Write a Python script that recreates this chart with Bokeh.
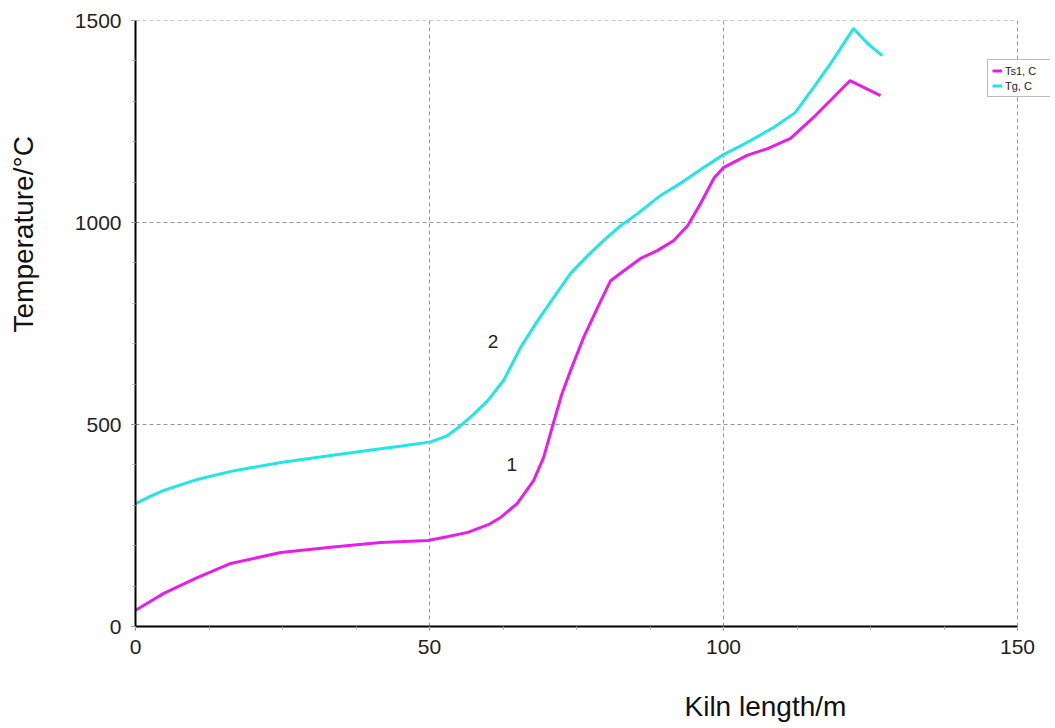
from bokeh.plotting import figure
from bokeh.models import (Range1d, FixedTicker, Label, Legend, LegendItem, Title)
from bokeh.embed import file_html
from bokeh.resources import INLINE

# ---- data ----
ts1_x = [0, 2.5, 4.8, 10.5, 16.2, 24.7, 33.2, 41.7, 49.7, 53, 56.5, 60, 62.1, 64.9,
         67.7, 69.4, 71.1, 72.5, 74, 76.2, 78.6, 80.8, 83, 85.9, 88.8, 91.5, 93.9,
         96.1, 98.4, 100, 104, 107.5, 111.4, 115.3, 121.5, 126.7]
ts1_y = [40, 62, 82, 121, 156, 183, 196, 208, 213, 222, 233, 252, 270, 304,
         361, 418, 505, 575, 634, 715, 790, 856, 880, 911, 931, 955, 992,
         1047, 1110, 1136, 1166, 1183, 1208, 1260, 1351, 1314]

tg_x = [0, 2.5, 4.8, 10.5, 16.2, 24.7, 33.2, 41.7, 45, 50.2, 53, 55.3, 57.5, 59.9,
        62.6, 65.5, 68.4, 71.1, 74, 76.9, 79.6, 82.5, 85.4, 89.3, 93, 96.5, 100,
        104, 108.5, 112.2, 115.3, 118.2, 122.1, 124.5, 127]
tg_y = [304, 322, 337, 364, 384, 406, 423, 440, 446, 457, 472, 497, 525, 559,
        609, 691, 757, 814, 874, 918, 955, 992, 1022, 1067, 1100, 1135, 1168,
        1198, 1235, 1272, 1334, 1393, 1480, 1443, 1413]

x_ticks = [0, 50, 100, 150]
y_ticks = [0, 500, 1000, 1500]
series_names = ["Ts1, C", "Tg, C"]
curve_labels = ["1", "2"]
curve_label_pos = [(64, 400), (60.8, 705)]
x_title = "Kiln length/m"
y_title = "Temperature/°C"

FONT = "Liberation Sans"

X_MAX = x_ticks[-1]
Y_MAX = y_ticks[-1]
# frame extends a little past x=150 so that the legend can overhang the axis end
x_end = X_MAX * (1050 - 135) / (1017 - 135)

p = figure(width=1052, height=728, output_backend="svg", toolbar_location=None,
           x_range=Range1d(0, x_end), y_range=Range1d(0, Y_MAX),
           min_border_left=135, min_border_top=20, min_border_right=2,
           min_border_bottom=102)
p.outline_line_color = None
p.background_fill_color = "white"
p.border_fill_color = "white"
p.xgrid.visible = False
p.ygrid.visible = False

# dashed grid restricted to the axis extent
p.segment(x0=x_ticks, y0=[0] * len(x_ticks), x1=x_ticks, y1=[Y_MAX] * len(x_ticks),
          line_color="#999999", line_dash="4 3", line_width=1)
p.segment(x0=[0] * len(y_ticks), y0=y_ticks, x1=[X_MAX] * len(y_ticks), y1=y_ticks,
          line_color="#999999", line_dash="4 3", line_width=1)

p.xaxis.bounds = (0, X_MAX)
p.xaxis.ticker = FixedTicker(ticks=x_ticks, minor_ticks=[12.5 * i for i in range(13)])
p.yaxis.ticker = FixedTicker(ticks=y_ticks, minor_ticks=[100 * i for i in range(16)])
for ax in (p.xaxis, p.yaxis):
    ax.axis_line_color = "black"
    ax.axis_line_width = 2
    ax.major_tick_line_color = "#555555"
    ax.major_tick_out = 4
    ax.major_tick_in = 0
    ax.minor_tick_line_color = "#aaaaaa"
    ax.minor_tick_out = 3
    ax.minor_tick_in = 0
    ax.major_label_text_font = FONT
    ax.major_label_text_font_size = "21px"
    ax.major_label_text_color = "#222222"
    # blank 1px axis label used only as a spacer before the offset titles
    ax.axis_label = " "
    ax.axis_label_text_font_size = "1px"
p.xaxis.major_label_standoff = 9
p.yaxis.major_label_standoff = 10
p.xaxis.axis_label_standoff = 28
p.yaxis.axis_label_standoff = 27

r1 = p.line(ts1_x, ts1_y, line_color="#E81EE8", line_width=3)
r2 = p.line(tg_x, tg_y, line_color="#22E6E6", line_width=3)

for txt, (lx, ly) in zip(curve_labels, curve_label_pos):
    p.add_layout(Label(x=lx, y=ly, text=txt, text_font=FONT,
                       text_font_size="19px", text_color="#222222",
                       text_align="center", text_baseline="middle"))

# axis titles as side-panel titles, offset as in the reference
p.add_layout(Title(text=x_title, align="left", offset=549, standoff=0,
                   vertical_align="bottom",
                   text_font=FONT, text_font_size="28px", text_font_style="normal",
                   text_color="#111111"), "below")
p.add_layout(Title(text=y_title, align="left", offset=294, standoff=0,
                   vertical_align="top",
                   text_font=FONT, text_font_size="28px", text_font_style="normal",
                   text_color="#111111"), "left")

legend = Legend(items=[LegendItem(label=series_names[0], renderers=[r1]),
                       LegendItem(label=series_names[1], renderers=[r2])],
                location=(852, 529))
legend.label_text_font = FONT
legend.label_text_font_size = "11px"
legend.label_text_color = "#222222"
legend.label_height = 13
legend.label_width = 42
legend.label_standoff = 3
legend.glyph_width = 10
legend.glyph_height = 13
legend.padding = 4
legend.spacing = 2
legend.margin = 0
legend.border_line_color = "#777777"
legend.border_line_width = 1
legend.background_fill_color = "white"
legend.background_fill_alpha = 1
p.add_layout(legend, "center")

open("out.html", "w").write(file_html(p, INLINE))
